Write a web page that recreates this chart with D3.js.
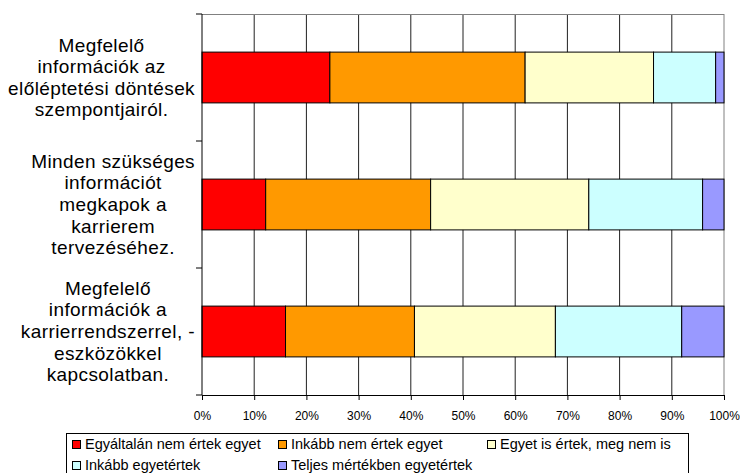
<!DOCTYPE html>
<html>
<head>
<meta charset="utf-8">
<script src="https://cdn.jsdelivr.net/npm/d3@7"></script>
<style>
  html, body { margin: 0; padding: 0; background: #fff; }
  svg { display: block; font-family: "Liberation Sans", Arial, sans-serif; }
</style>
</head>
<body>
<svg id="chart" width="740" height="473"></svg>
<script>
// Survey statements (each wrapped over several lines as on the axis)
const categories = [
  ["Megfelelő", "információk az", "előléptetési döntések", "szempontjairól."],
  ["Minden szükséges", "információt", "megkapok a", "karrierem", "tervezéséhez."],
  ["Megfelelő", "információk a", "karrierrendszerrel, -", "eszközökkel", "kapcsolatban."]
];

// Answer options, shares in percent per statement
const seriesNames = [
  "Egyáltalán nem értek egyet",
  "Inkább nem értek egyet",
  "Egyet is értek, meg nem is",
  "Inkább egyetértek",
  "Teljes mértékben egyetértek"
];
const strongDisagree = [24.5, 12.2, 16.0];
const ratherDisagree = [37.4, 31.6, 24.7];
const neutral        = [24.6, 30.3, 27.0];
const ratherAgree    = [11.9, 21.8, 24.2];
const stronglyAgree  = [1.6, 4.1, 8.1];

const tickValues = [0, 10, 20, 30, 40, 50, 60, 70, 80, 90, 100];
const colors = ["#FF0000", "#FF9900", "#FFFFCC", "#CCFFFF", "#9999FF"];

const seriesValues = [strongDisagree, ratherDisagree, neutral, ratherAgree, stronglyAgree];
const rows = categories.map((c, i) => {
  const r = { idx: i };
  seriesNames.forEach((s, k) => { r[s] = seriesValues[k][i]; });
  return r;
});

const svg = d3.select("#chart");
const plot = { left: 202, right: 724, top: 14, bottom: 395 };

const x = d3.scaleLinear().domain([0, 100]).range([plot.left, plot.right]);
const y = d3.scaleBand().domain(categories.map((c, i) => i)).range([plot.top, plot.bottom]).padding(0);

// vertical gridlines
svg.append("g")
  .selectAll("line")
  .data(tickValues.slice(1))
  .join("line")
  .attr("x1", d => x(d)).attr("x2", d => x(d))
  .attr("y1", plot.top).attr("y2", plot.bottom)
  .attr("stroke", d => d === 100 ? "#808080" : "#202020")
  .attr("stroke-width", 1);

// top border of the plot area
svg.append("line")
  .attr("x1", plot.left).attr("x2", plot.right)
  .attr("y1", plot.top + 0.5).attr("y2", plot.top + 0.5)
  .attr("stroke", "#808080");

// stacked bars
const stack = d3.stack().keys(seriesNames);
const stacked = stack(rows);
const barH = y.bandwidth() * 0.4;

svg.append("g")
  .selectAll("g")
  .data(stacked)
  .join("g")
  .attr("fill", (d, i) => colors[i])
  .selectAll("rect")
  .data(d => d)
  .join("rect")
  .attr("x", d => x(d[0]))
  .attr("width", d => x(d[1]) - x(d[0]))
  .attr("y", d => y(d.data.idx) + (y.bandwidth() - barH) / 2)
  .attr("height", barH)
  .attr("stroke", "#000")
  .attr("stroke-width", 1);

// bottom axis
const xAxis = d3.axisBottom(x)
  .tickValues(tickValues)
  .tickFormat(d => d + "%")
  .tickSize(5)
  .tickPadding(11);
const gx = svg.append("g").attr("transform", `translate(0,${plot.bottom})`).call(xAxis);
gx.select(".domain").attr("stroke", "#000");
gx.selectAll(".tick line").attr("stroke", "#000");
gx.selectAll("text").attr("font-size", 12).attr("font-family", "'Liberation Sans', Arial, sans-serif").attr("fill", "#000");

// left axis line with ticks at the category boundaries
svg.append("line")
  .attr("x1", plot.left).attr("x2", plot.left)
  .attr("y1", plot.top).attr("y2", plot.bottom)
  .attr("stroke", "#000");
const boundaries = [0, 1, 2].map(i => y(i)).concat([plot.bottom]);
svg.append("g").selectAll("line")
  .data(boundaries)
  .join("line")
  .attr("x1", plot.left - 6).attr("x2", plot.left)
  .attr("y1", d => d).attr("y2", d => d)
  .attr("stroke", "#000");

// category labels, each line centred within the label block
const lineH = 21.6;
const labelRight = 195;
categories.forEach((lines, i) => {
  const g = svg.append("g");
  const cy = y(i) + y.bandwidth() / 2;
  const texts = g.selectAll("text")
    .data(lines)
    .join("text")
    .attr("font-size", 19)
    .attr("letter-spacing", 0.4)
    .attr("fill", "#000")
    .attr("text-anchor", "middle")
    .attr("y", (d, k) => cy + (k - (lines.length - 1) / 2) * lineH + 6.5)
    .text(d => d);
  let maxW = 0;
  texts.each(function() { maxW = Math.max(maxW, this.getComputedTextLength()); });
  texts.attr("x", labelRight - maxW / 2);
});

// legend
const legend = svg.append("g");
legend.append("rect")
  .attr("x", 66.5).attr("y", 433.5)
  .attr("width", 622).attr("height", 45)
  .attr("fill", "#fff").attr("stroke", "#000");
const legendPos = [
  { x: 72, y: 440 }, { x: 278, y: 440 }, { x: 487, y: 440 },
  { x: 72, y: 461 }, { x: 278, y: 461 }
];
seriesNames.forEach((name, i) => {
  const p = legendPos[i];
  legend.append("rect")
    .attr("x", p.x + 0.5).attr("y", p.y + 0.5)
    .attr("width", 8).attr("height", 8)
    .attr("fill", colors[i]).attr("stroke", "#000");
  legend.append("text")
    .attr("x", p.x + 13).attr("y", p.y + 9)
    .attr("font-size", 14.5)
    .attr("fill", "#000")
    .text(name);
});
</script>
</body>
</html>
